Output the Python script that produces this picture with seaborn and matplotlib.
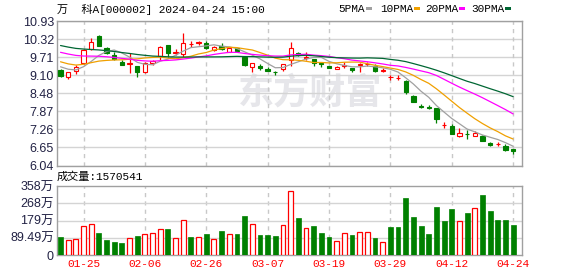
import numpy as np
import pandas as pd
import matplotlib
matplotlib.use("Agg")
import matplotlib.pyplot as plt
import seaborn as sns
from matplotlib.patches import Rectangle

# ---------------- data ----------------
dates = ["01-22", "01-23", "01-24", "01-25", "01-26", "01-29", "01-30", "01-31",
         "02-01", "02-02", "02-05", "02-06", "02-07", "02-08", "02-19", "02-20",
         "02-21", "02-22", "02-23", "02-26", "02-27", "02-28", "02-29", "03-01",
         "03-04", "03-05", "03-06", "03-07", "03-08", "03-11", "03-12", "03-13",
         "03-14", "03-15", "03-18", "03-19", "03-20", "03-21", "03-22", "03-25",
         "03-26", "03-27", "03-28", "03-29", "04-01", "04-02", "04-03", "04-08",
         "04-09", "04-10", "04-11", "04-12", "04-15", "04-16", "04-17", "04-18",
         "04-19", "04-22", "04-23", "04-24"]

opens = [9.27, 9.02, 9.25, 9.50, 9.97, 10.43, 10.00, 9.78, 9.55, 9.49,
         9.41, 9.19, 9.50, 9.75, 10.12, 9.85, 9.80, 10.15, 10.19, 10.19,
         9.95, 10.08, 9.89, 10.00, 9.72, 9.36, 9.40, 9.31, 9.22, 9.30,
         9.60, 9.86, 9.68, 9.64, 9.50, 9.41, 9.31, 9.40, 9.33, 9.44,
         9.46, 9.42, 9.24, 9.02, 8.99, 8.90, 8.40, 8.05, 8.02, 7.97,
         7.41, 7.38, 7.05, 7.12, 7.05, 7.05, 6.79, 6.76, 6.71, 6.60]
highs = [9.30, 9.20, 9.43, 9.97, 10.34, 10.46, 10.06, 9.87, 9.62, 9.86,
         9.42, 9.54, 9.62, 10.08, 10.13, 9.97, 10.54, 10.26, 10.27, 10.24,
         10.08, 10.19, 10.04, 10.03, 9.73, 9.51, 9.48, 9.39, 9.23, 9.49,
         10.22, 9.89, 9.87, 9.65, 9.51, 9.42, 9.40, 9.55, 9.34, 9.50,
         9.55, 9.48, 9.33, 9.10, 9.10, 8.92, 8.43, 8.12, 8.09, 7.99,
         7.50, 7.43, 7.30, 7.25, 7.21, 7.07, 6.82, 6.82, 6.76, 6.61]
lows = [9.02, 8.96, 9.13, 9.49, 9.95, 10.08, 9.81, 9.60, 9.44, 9.18,
        9.05, 9.16, 9.45, 9.61, 9.70, 9.78, 9.72, 10.04, 10.12, 9.97,
        9.93, 9.95, 9.88, 9.89, 9.42, 9.22, 9.28, 9.25, 9.10, 9.24,
        9.42, 9.75, 9.60, 9.42, 9.36, 9.34, 9.29, 9.33, 9.19, 9.22,
        9.40, 9.22, 9.19, 8.94, 8.92, 8.45, 8.19, 7.97, 7.95, 7.49,
        7.32, 7.09, 7.02, 6.93, 7.04, 6.87, 6.69, 6.69, 6.54, 6.44]
closes = [9.08, 9.19, 9.38, 9.95, 10.21, 10.10, 9.84, 9.64, 9.45, 9.51,
          9.22, 9.50, 9.56, 10.06, 9.86, 9.88, 10.20, 10.15, 10.21, 10.00,
          10.06, 9.97, 10.03, 9.93, 9.44, 9.50, 9.34, 9.25, 9.21, 9.48,
          10.02, 9.79, 9.71, 9.50, 9.47, 9.35, 9.38, 9.43, 9.27, 9.46,
          9.49, 9.25, 9.26, 9.02, 8.99, 8.52, 8.20, 8.03, 8.00, 7.60,
          7.41, 7.12, 7.14, 7.10, 7.13, 6.88, 6.73, 6.76, 6.57, 6.52]
# closes before the visible window (needed for the moving averages)
prior_closes = [10.78, 10.70, 10.62, 10.66, 10.55, 10.58, 10.48, 10.52, 10.42, 10.29,
                10.35, 10.30, 10.38, 10.25, 10.20, 10.18, 10.12, 10.08, 10.02, 10.02,
                9.90, 9.78, 9.70, 9.65, 9.57,
                9.60, 9.50, 9.40, 9.32]
volumes = [93, 78, 81, 150, 161, 114, 78, 67, 62, 86,
           101, 109, 114, 135, 135, 86, 180, 93, 92, 111,
           81, 124, 107, 109, 202, 161, 104, 104, 99, 156,
           331, 192, 138, 148, 114, 93, 73, 114, 104, 118,
           118, 88, 66, 145, 145, 296, 197, 150, 109, 249,
           176, 239, 175, 218, 242, 311, 228, 182, 182, 157.0541]  # 万
vol_up = [0, 1, 1, 1, 1, 0, 0, 0, 0, 1,
          0, 1, 1, 1, 0, 1, 1, 0, 1, 0,
          1, 0, 1, 0, 0, 1, 0, 0, 0, 1,
          1, 0, 1, 0, 0, 0, 1, 1, 0, 1,
          1, 0, 1, 0, 0, 0, 0, 0, 0, 0,
          0, 0, 1, 0, 1, 0, 0, 0, 0, 0]

ma_windows = [5, 10, 20, 30]
ma_names = ["5PMA", "10PMA", "20PMA", "30PMA"]
ma_colors = ["#a0a0a0", "#f0a000", "#ff00ff", "#006633"]

price_ticks = [6.04, 6.65, 7.26, 7.87, 8.48, 9.10, 9.71, 10.32, 10.93]
price_tick_labels = ["6.04", "6.65", "7.26", "7.87", "8.48", "9.10", "9.71", "10.32", "10.93"]
vol_ticks = [0, 89.49, 179, 268, 358]
vol_tick_labels = ["0", "89.49万", "179万", "268万", "358万"]
xtick_dates = ["01-25", "02-06", "02-26", "03-07", "03-19", "03-29", "04-12", "04-24"]

title_text = "万  科A[000002] 2024-04-24 15:00"
vol_text = "成交量:1570541"
watermark = "东方财富"

# ---------------- style ----------------
sns.set_style("white")
MONO = ["Liberation Mono", "Noto Sans CJK SC"]
SANS = ["Liberation Sans", "Noto Sans CJK SC"]
plt.rcParams["font.family"] = MONO

RED = "#ff0000"
GREEN = "#008000"
GRID = "#d4d4d4"
VGRID = "#c8c8c8"
SPINE = "#a0a0a0"
LABEL = "#222244"

W, H = 578, 276
fig = plt.figure(figsize=(W / 100, H / 100), dpi=100)

def fx(px):
    return px / W

def fy(py):
    return 1 - py / H

ax = fig.add_axes([fx(56.7), fy(165.5), fx(522.3 - 56.7), (165.5 - 21) / H])
axv = fig.add_axes([fx(56.7), fy(255), fx(522.3 - 56.7), (255 - 186) / H])

n = len(closes)
x = np.arange(n)
o = np.array(opens); c = np.array(closes)
hi = np.array(highs); lo = np.array(lows)
up = c >= o

# watermark
ax.text(0.545, 0.50, watermark, transform=ax.transAxes, ha="center", va="center",
        fontsize=26, fontweight="bold", color="#e6e6ea", family=["Noto Sans CJK SC"], zorder=0)

# grid
for t in price_ticks:
    ax.axhline(t, color=GRID, lw=1.0, zorder=1)
tick_idx = [dates.index(d) for d in xtick_dates]
for t in tick_idx:
    ax.axvline(t, color=VGRID, lw=1.0, ls=(0, (3, 3)), zorder=1)
    axv.axvline(t, color=VGRID, lw=1.0, ls=(0, (3, 3)), zorder=1)
for t in vol_ticks[1:-1]:
    axv.axhline(t, color=GRID, lw=1.0, zorder=1)

# candles
ax.vlines(x, lo, hi, colors=np.where(up, RED, GREEN), linewidth=0.9, zorder=3)
ax.bar(x, np.abs(c - o), bottom=np.minimum(o, c), width=0.56,
       color=np.where(up, "white", GREEN), edgecolor=np.where(up, RED, GREEN),
       linewidth=0.8, zorder=4)

# moving averages
full = pd.Series(prior_closes + closes)
for w, col in zip(ma_windows, ma_colors):
    ma = full.rolling(w).mean().iloc[-n:].to_numpy()
    sns.lineplot(x=x, y=ma, ax=ax, color=col, linewidth=0.9, zorder=5)

ax.set_xlim(-0.5, 60.2)
ax.set_ylim(6.04, 10.93)
ax.set_xticks([])
ax.set_yticks(price_ticks)
ax.set_yticklabels(price_tick_labels, family=SANS, fontsize=9, color=LABEL)
ax.tick_params(axis="y", length=0, pad=2)

# volume
vdf = pd.DataFrame({"idx": x, "vol": volumes,
                    "dir": np.where(np.array(vol_up) == 1, "up", "down")})
sns.barplot(data=vdf, x="idx", y="vol", hue="dir", ax=axv, native_scale=True,
            dodge=False, palette={"up": RED, "down": GREEN}, saturation=1,
            width=0.64, errorbar=None, legend=False, zorder=3)
for p in axv.patches:
    fc = p.get_facecolor()
    if fc[0] > 0.9 and fc[1] < 0.1:
        p.set_facecolor("white")
        p.set_edgecolor(RED)
        p.set_linewidth(0.9)
    else:
        p.set_edgecolor(GREEN)
        p.set_linewidth(0.5)

axv.set_xlim(-0.5, 60.2)
axv.set_ylim(0, 358)
axv.set_xlabel("")
axv.set_ylabel("")
axv.set_yticks(vol_ticks)
axv.set_yticklabels(vol_tick_labels, family=SANS, fontsize=9, color=LABEL)
axv.set_xticks(tick_idx)
axv.set_xticklabels(xtick_dates, family=MONO, fontsize=8, color=RED)
axv.tick_params(axis="both", length=0, pad=3)
axv.tick_params(axis="y", pad=2)

for a in (ax, axv):
    for s in a.spines.values():
        s.set_visible(True)
        s.set_color(SPINE)
        s.set_linewidth(1.0)

# texts
fig.text(fx(57), fy(9.5), title_text, ha="left", va="center", fontsize=8,
         family=MONO, color="black")
fig.text(fx(57), fy(177), vol_text, ha="left", va="center", fontsize=8,
         family=MONO, color="black")

leg_x = [338.3, 380, 425, 471.7]
sq_x = [366, 414, 459.3, 505.3]
for name, col, lx, sx in zip(ma_names, ma_colors, leg_x, sq_x):
    fig.text(fx(lx), fy(9), name, ha="left", va="center", fontsize=8,
             family=MONO, color="black")
    fig.patches.append(Rectangle((fx(sx), fy(10)), fx(5.5), 3 / H,
                                 transform=fig.transFigure, facecolor=col,
                                 edgecolor="none"))

fig.savefig("out.png", dpi=100)
